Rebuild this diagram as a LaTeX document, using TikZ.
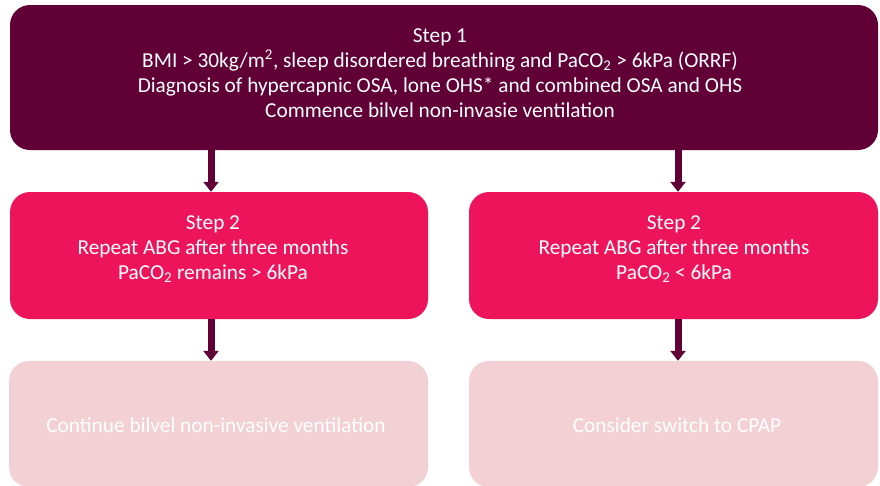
\documentclass[tikz,border=0pt]{standalone}
\usepackage{fontspec}
\setmainfont{Carlito}
\usetikzlibrary{arrows.meta}
\definecolor{maroon}{HTML}{600036}
\definecolor{hotpink}{HTML}{ED145B}
\definecolor{palepink}{HTML}{F2D0D4}
\tikzset{
  box/.style={rounded corners=20pt, inner sep=0pt, outer sep=0pt},
  txt/.style={text=white, align=center, font=\fontsize{21.3}{25}\selectfont, inner sep=0pt},
  conn/.style={draw=maroon, line width=7pt, -{Triangle[width=15pt,length=10pt]}, shorten >=0pt}
}
\begin{document}
\begin{tikzpicture}[x=1pt,y=-1pt]
\useasboundingbox (0,0) rectangle (880,485);
% boxes
\path[box, fill=maroon] (10,5) rectangle (878,150);
\node[inner sep=0pt, minimum width=868pt, minimum height=145pt] (s1) at (444,77.5) {};
\path[box, fill=hotpink] (10,192) rectangle (428,319);
\node[inner sep=0pt, minimum width=418pt, minimum height=127pt] (s2l) at (219,255.5) {};
\path[box, fill=hotpink] (469,192) rectangle (878,319);
\node[inner sep=0pt, minimum width=409pt, minimum height=127pt] (s2r) at (673.5,255.5) {};
\path[box, fill=palepink] (9,361) rectangle (428,487);
\node[inner sep=0pt, minimum width=419pt, minimum height=126pt] (s3l) at (218.5,424) {};
\path[box, fill=palepink] (469,361) rectangle (878,487);
\node[inner sep=0pt, minimum width=409pt, minimum height=126pt] (s3r) at (673.5,424) {};
% texts
\node[txt] (t1) at (440,73) {Step 1\\BMI > 30kg/m\textsuperscript{2}, sleep disordered breathing and PaCO\textsubscript{2} > 6kPa (ORRF)\\Diagnosis of hypercapnic OSA, lone OHS* and combined OSA and OHS\\Commence bilvel non-invasie ventilation};
\node[txt] (t2l) at (213,249.5) {Step 2\\Repeat ABG after three months\\PaCO\textsubscript{2} remains > 6kPa};
\node[txt] (t2r) at (674,249.5) {Step 2\\Repeat ABG after three months\\PaCO\textsubscript{2} < 6kPa};
\node[txt] (t3l) at (216,425) {Continue bilvel non-invasive ventilation};
\node[txt] (t3r) at (677,425) {Consider switch to CPAP};
% connectors
\draw[conn] (s1.south -| 211,0) -- (s2l.north -| 211,0);
\draw[conn] (s1.south -| 678,0) -- (s2r.north -| 678,0);
\draw[conn] (s2l.south -| 211,0) -- (s3l.north -| 211,0);
\draw[conn] (s2r.south -| 678,0) -- (s3r.north -| 678,0);
\end{tikzpicture}
\end{document}
